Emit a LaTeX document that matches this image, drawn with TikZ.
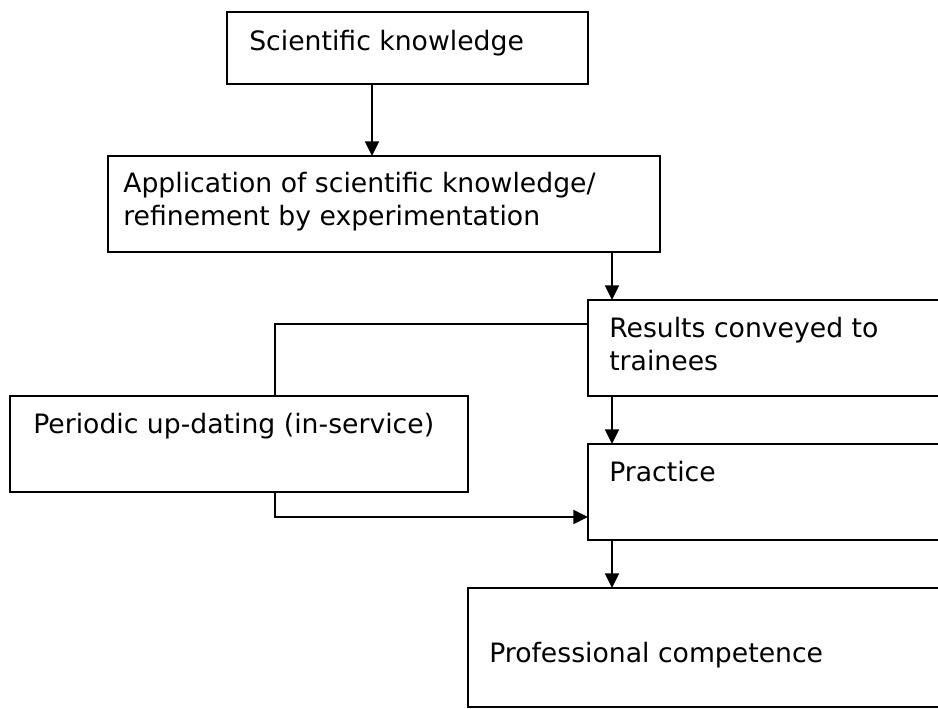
\documentclass[tikz,border=0pt]{standalone}
\usepackage{fontspec}
\setmainfont{DejaVu Sans}
\usetikzlibrary{arrows.meta,fit}
\begin{document}
\begin{tikzpicture}[x=0.75pt,y=-0.75pt,
  box/.style={draw, line width=1.5pt, inner sep=0pt, outer sep=0pt},
  txt/.style={inner sep=0pt, anchor=base west, font=\fontsize{20}{24}\selectfont},
  link/.style={line width=1.5pt},
  arr/.style={link, -{Triangle[width=10.5pt,length=11pt]}}]
\clip (0,0) rectangle (938,708);
\fill[white] (0,0) rectangle (938,708);

% boxes
\node[box, fit={(227,12) (588,84)}] (b1) {};
\node[box, fit={(108,156) (660,252)}] (b2) {};
\node[box, fit={(588,300) (950,396)}] (b3) {};
\node[box, fit={(10,396) (468,492)}] (b4) {};
\node[box, fit={(588,444) (950,540)}] (b5) {};
\node[box, fit={(468,588) (950,707)}] (b6) {};

% texts
\node[txt] (t1) at (249,50) {Scientific knowledge};
\node[txt] (t2a) at (123,192) {Application of scientific knowledge/};
\node[txt] (t2b) at (123,225) {refinement by experimentation};
\node[txt] (t3a) at (609,337) {Results conveyed to};
\node[txt] (t3b) at (609,370) {trainees};
\node[txt] (t4) at (33,433) {Periodic up-dating (in-service)};
\node[txt] (t5) at (609,481) {Practice};
\node[txt] (t6) at (489,662) {Professional competence};

% helper coordinates
\coordinate (xa) at (372,0);
\coordinate (xb) at (612,0);
\coordinate (xf) at (275,0);
\coordinate (yf1) at (0,324);
\coordinate (yf2) at (0,517);

% connectors
\draw[arr] (xa |- b1.south) -- (xa |- b2.north);
\draw[arr] (xb |- b2.south) -- (xb |- b3.north);
\draw[arr] (xb |- b3.south) -- (xb |- b5.north);
\draw[arr] (xb |- b5.south) -- (xb |- b6.north);
\draw[link] (b3.west |- yf1) -| (xf |- b4.north);
\draw[arr] (xf |- b4.south) |- (b5.west |- yf2);
\end{tikzpicture}
\end{document}
